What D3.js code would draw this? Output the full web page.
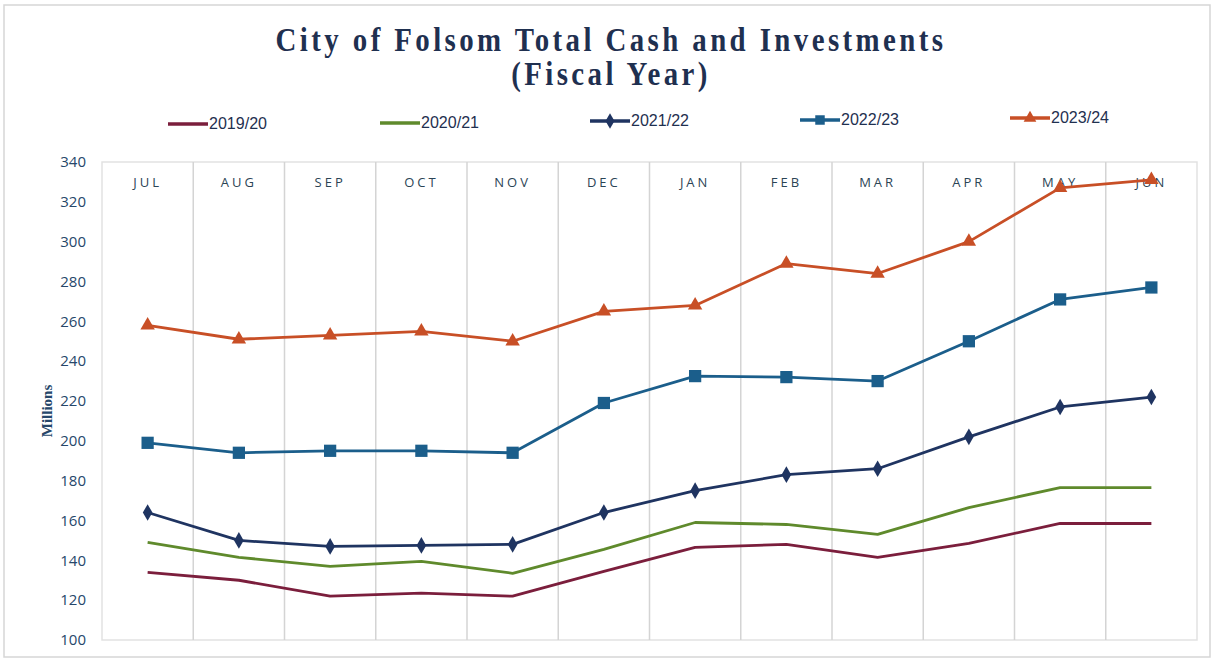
<!DOCTYPE html>
<html>
<head>
<meta charset="utf-8">
<script src="https://cdn.jsdelivr.net/npm/d3@7"></script>
<style>
  body { margin: 0; background: #fff; }
  svg { display: block; }
</style>
</head>
<body>
<div id="main"></div>
<script>
// chart values (millions)
const months = ['JUL', 'AUG', 'SEP', 'OCT', 'NOV', 'DEC', 'JAN', 'FEB', 'MAR', 'APR', 'MAY', 'JUN'];
const fy1920 = [134, 130, 122, 123.5, 122, 134.5, 146.5, 148, 141.5, 148.5, 158.5, 158.5];
const fy2021 = [149, 141.5, 137, 139.5, 133.5, 145.5, 159, 158, 153, 166.5, 176.5, 176.5];
const fy2122 = [164, 150, 147, 147.5, 148, 164, 175, 183, 186, 202, 217, 222];
const fy2223 = [199, 194, 195, 195, 194, 219, 232.5, 232, 230, 250, 271, 277];
const fy2324 = [258, 251, 253, 255, 250, 265, 268, 289, 284, 300, 327, 331];
const seriesNames = ['2019/20', '2020/21', '2021/22', '2022/23', '2023/24'];
const yTicks = [100, 120, 140, 160, 180, 200, 220, 240, 260, 280, 300, 320, 340];

const series = [
    { name: seriesNames[0], values: fy1920, color: '#7b1e3c', marker: null },
    { name: seriesNames[1], values: fy2021, color: '#5f8a2c', marker: null },
    { name: seriesNames[2], values: fy2122, color: '#1f3461', marker: d3.symbolDiamond },
    { name: seriesNames[3], values: fy2223, color: '#1b5e8b', marker: d3.symbolSquare },
    { name: seriesNames[4], values: fy2324, color: '#c84f26', marker: d3.symbolTriangle }
];

const w = 1216;
const h = 660;
const plot = { left: 102, right: 1197, top: 162, bottom: 640 };

const svg = d3.select('#main')
    .append('svg')
    .attr('width', w)
    .attr('height', h);

// outer frame
svg.append('rect')
    .attr('x', 4).attr('y', 5)
    .attr('width', w - 10).attr('height', h - 8)
    .attr('fill', 'none')
    .attr('stroke', '#d6d6d6')
    .attr('stroke-width', 1.5);

const x = d3.scaleBand()
    .domain(months)
    .range([plot.left, plot.right]);

const y = d3.scaleLinear()
    .domain([100, 340])
    .range([plot.bottom, plot.top]);

// title (tall condensed look: bigger font squeezed horizontally)
const title = svg.append('text')
    .attr('transform', 'translate(611,0) scale(0.85,1)')
    .attr('text-anchor', 'middle')
    .style('font-family', '"Liberation Serif", "DejaVu Serif", serif')
    .style('font-weight', 'bold')
    .style('font-size', '34px')
    .style('letter-spacing', '4px')
    .attr('fill', '#1f3050');
title.append('tspan').attr('x', 0).attr('y', 51).text('City of Folsom Total Cash and Investments');
title.append('tspan').attr('x', 0).attr('y', 85).text('(Fiscal Year)');

// plot frame and vertical gridlines
svg.append('rect')
    .attr('x', plot.left).attr('y', plot.top)
    .attr('width', plot.right - plot.left).attr('height', plot.bottom - plot.top)
    .attr('fill', 'none')
    .attr('stroke', '#e2e2e2')
    .attr('stroke-width', 1.5);

svg.append('g')
    .selectAll('line')
    .data(months.slice(1))
    .enter()
    .append('line')
    .attr('x1', d => x(d)).attr('x2', d => x(d))
    .attr('y1', plot.top).attr('y2', plot.bottom)
    .attr('stroke', '#d4d4d4')
    .attr('stroke-width', 1.5);

// month labels across the top
svg.append('g')
    .selectAll('text')
    .data(months)
    .enter()
    .append('text')
    .attr('x', d => x(d) + x.bandwidth() / 2)
    .attr('y', 187)
    .attr('text-anchor', 'middle')
    .style('font-family', '"Open Sans", "DejaVu Sans", sans-serif')
    .style('font-size', '13px')
    .style('letter-spacing', '3px')
    .attr('fill', '#2b4455')
    .text(d => d);

// y axis
const yAxis = svg.append('g')
    .attr('transform', `translate(${plot.left},0)`)
    .call(d3.axisLeft(y).tickValues(yTicks).tickSize(0).tickPadding(16));
yAxis.select('.domain').remove();
yAxis.selectAll('text')
    .style('font-family', '"Open Sans", "DejaVu Sans", sans-serif')
    .style('font-size', '15px')
    .attr('fill', '#26476a');

svg.append('text')
    .attr('transform', 'translate(52,411) rotate(-90)')
    .attr('text-anchor', 'middle')
    .style('font-family', '"Liberation Serif", serif')
    .style('font-weight', 'bold')
    .style('font-size', '15px')
    .attr('fill', '#26476a')
    .text('Millions');

// lines
const line = d3.line()
    .x((d, i) => x(months[i]) + x.bandwidth() / 2)
    .y(d => y(d));

const lineG = svg.append('g');
series.forEach(s => {
    lineG.append('path')
        .datum(s.values)
        .attr('d', line)
        .attr('fill', 'none')
        .attr('stroke', s.color)
        .attr('stroke-width', 2.8)
        .attr('stroke-linejoin', 'round');

    if (s.marker) {
        const size = s.marker === d3.symbolSquare ? 150 : (s.marker === d3.symbolTriangle ? 90 : 80);
        lineG.append('g')
            .selectAll('path')
            .data(s.values)
            .enter()
            .append('path')
            .attr('transform', (d, i) => `translate(${x(months[i]) + x.bandwidth() / 2},${y(d)})`)
            .attr('d', d3.symbol().type(s.marker).size(size))
            .attr('fill', s.color);
    }
});

// legend
const legendX = [168, 380, 590, 800, 1010];
const legendY = [124, 123, 121, 120, 118];
const legend = svg.append('g')
    .selectAll('g')
    .data(series)
    .enter()
    .append('g')
    .attr('transform', (d, i) => `translate(${legendX[i]},${legendY[i]})`);

legend.append('line')
    .attr('x1', 0).attr('x2', 40)
    .attr('stroke', d => d.color)
    .attr('stroke-width', 3.5);

legend.filter(d => d.marker)
    .append('path')
    .attr('transform', 'translate(20,0)')
    .attr('d', d => d3.symbol().type(d.marker).size(d.marker === d3.symbolSquare ? 90 : 70)())
    .attr('fill', d => d.color);

legend.append('text')
    .attr('x', 41)
    .attr('y', 5)
    .attr('transform', 'scale(1,1)')
    .style('font-family', '"Liberation Sans", sans-serif')
    .style('font-size', '16px')
    .attr('textLength', 58)
    .attr('lengthAdjust', 'spacingAndGlyphs')
    .attr('fill', '#1f3050')
    .text(d => d.name);
</script>
</body>
</html>
